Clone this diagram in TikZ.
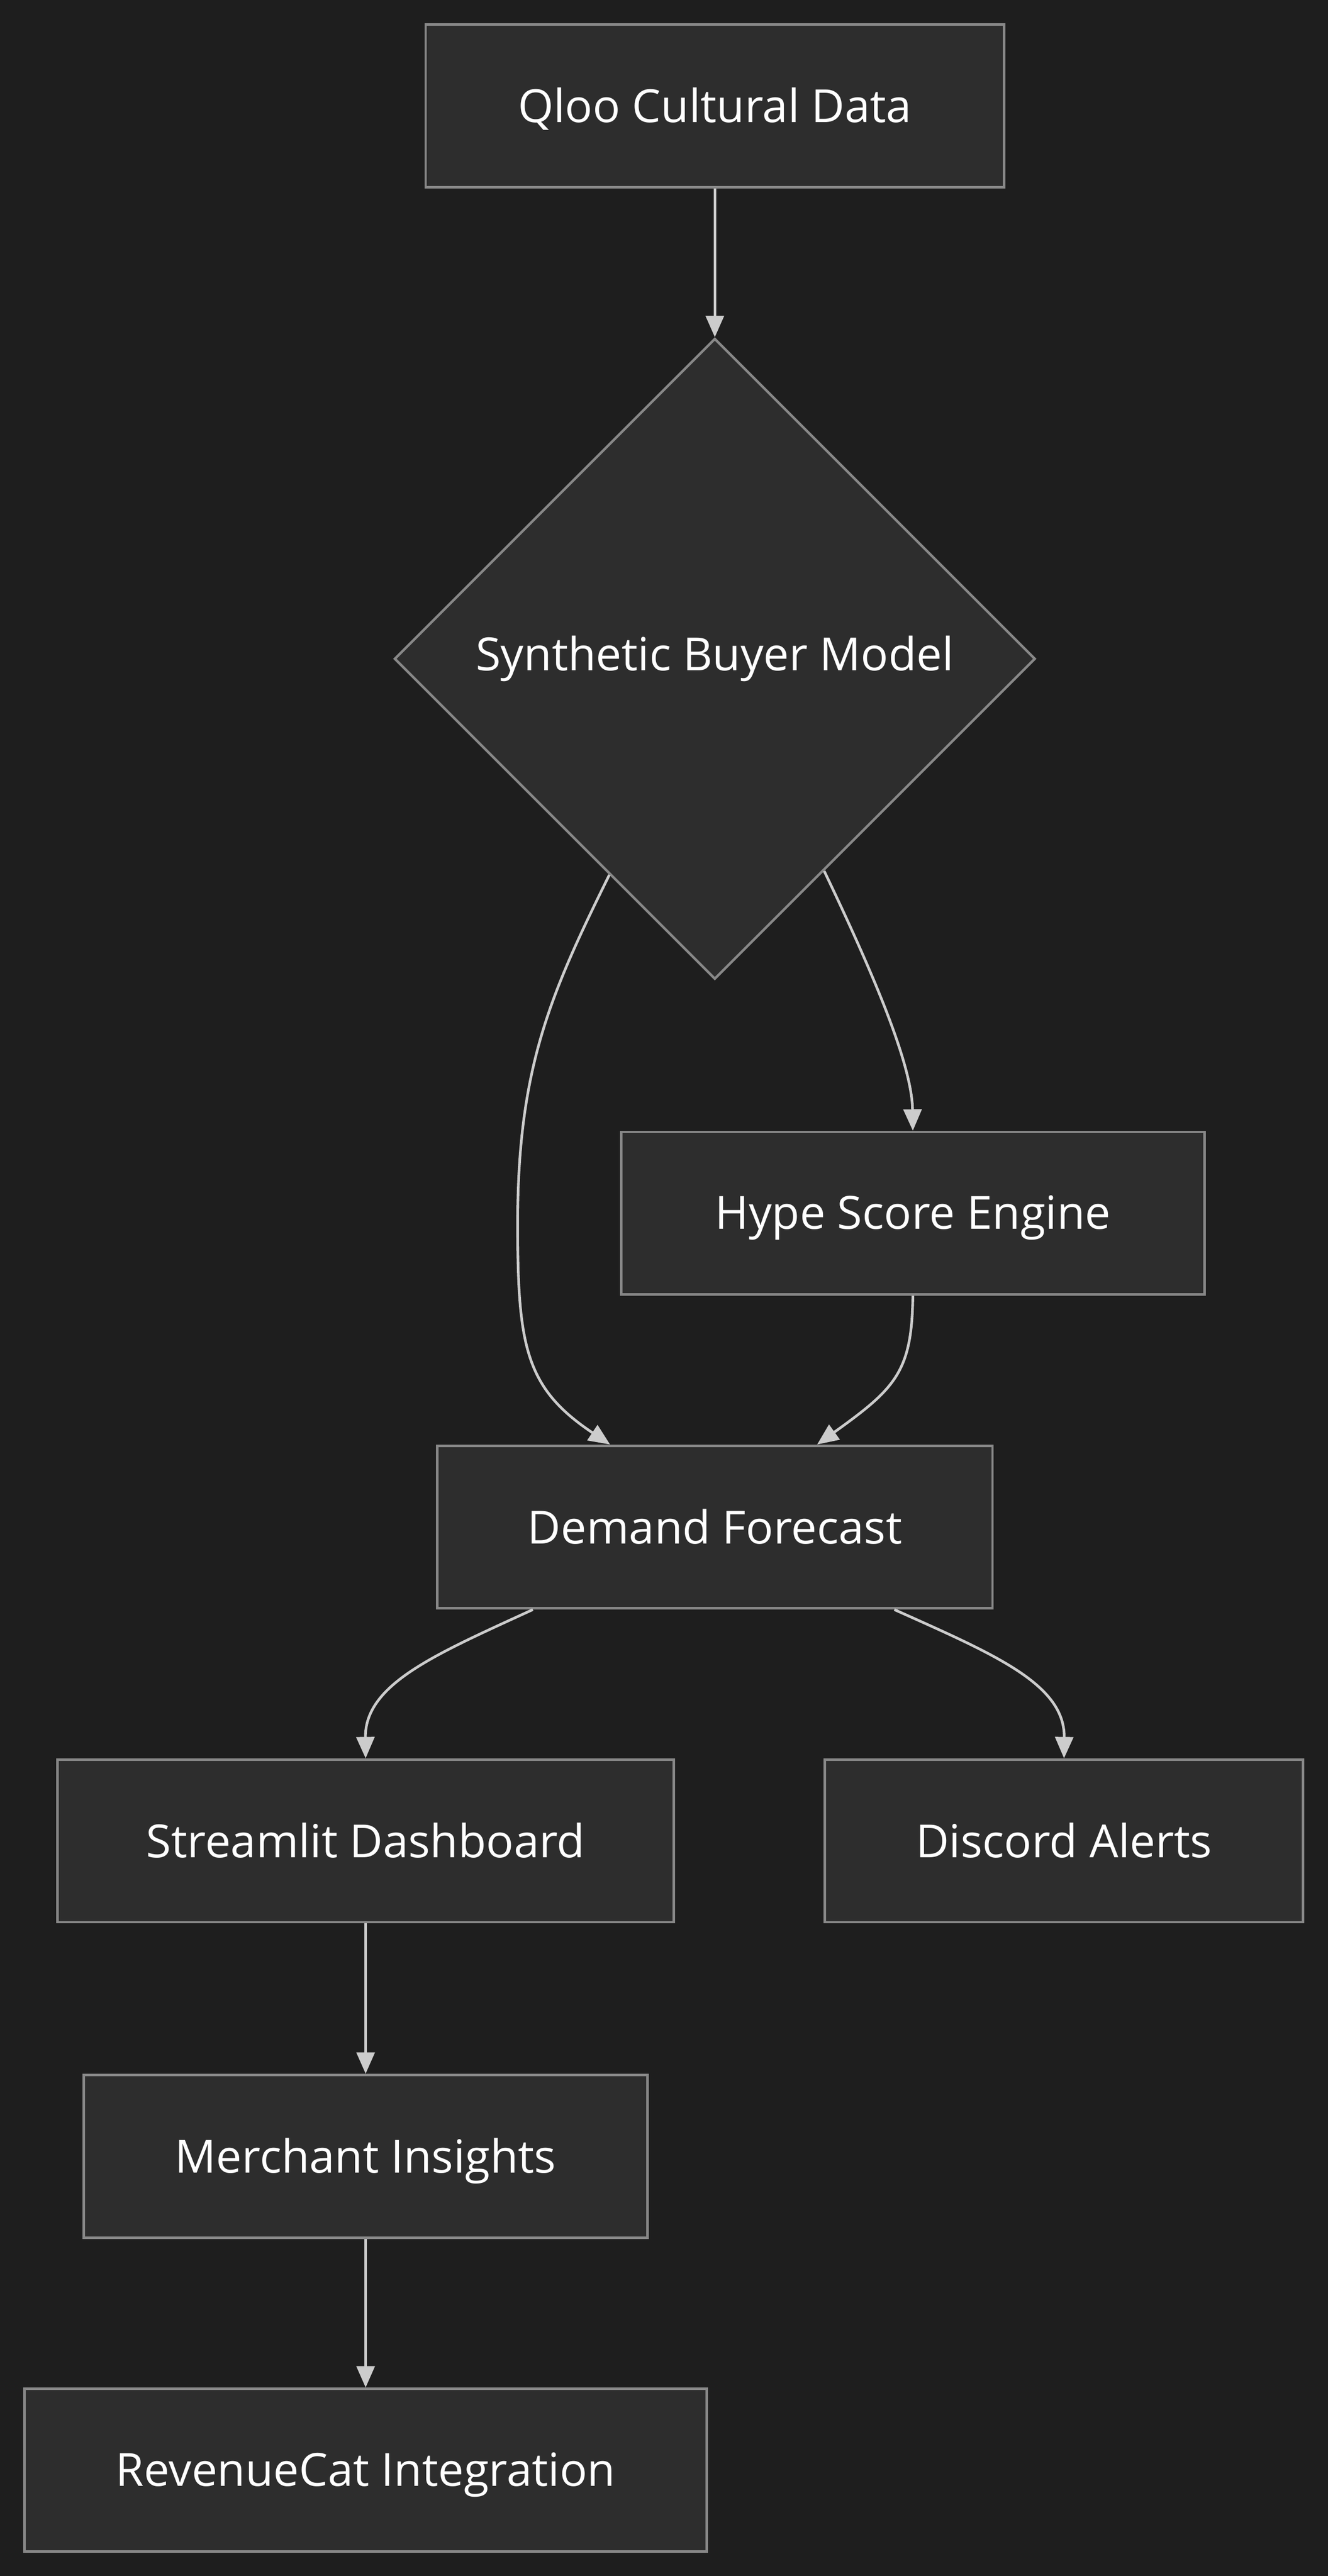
\documentclass[tikz,border=0pt]{standalone}
\usepackage{fontspec}
\setmainfont{Open Sans}
\usetikzlibrary{shapes.geometric,arrows.meta,calc}
\definecolor{bgc}{HTML}{1E1E1E}
\definecolor{fillc}{HTML}{2D2D2D}
\definecolor{borderc}{HTML}{888888}
\definecolor{edgec}{HTML}{CCCCCC}
\tikzset{
  box/.style={draw=borderc, fill=fillc, line width=1.5pt, inner sep=0pt, minimum height=99pt, text=white, font=\fontsize{27.8}{32}\selectfont, text depth=1pt},
  decision/.style={diamond, draw=borderc, fill=fillc, line width=1.5pt, inner sep=0pt, minimum width=390pt, minimum height=390pt, text=white, font=\fontsize{27.8}{32}\selectfont},
  flow/.style={draw=edgec, line width=1.6pt, -{Triangle[length=13pt,width=11pt]}, fill=none}
}
\begin{document}
\begin{tikzpicture}[x=1pt,y=-1pt]
\fill[bgc] (0,0) rectangle (808,1568);
\useasboundingbox (0,0) rectangle (808,1568);
\node[box, minimum width=352pt] (qloo) at (435,64.5) {Qloo Cultural Data};
\node[decision] (sbm) at (435,401) {Synthetic Buyer Model};
\node[box, minimum width=355pt] (hype) at (555.5,738.5) {Hype Score Engine};
\node[box, minimum width=338pt] (dem) at (435,929.5) {Demand Forecast};
\node[box, minimum width=375pt] (stream) at (222.5,1120.5) {Streamlit Dashboard};
\node[box, minimum width=291pt] (disc) at (647.5,1120.5) {Discord Alerts};
\node[box, minimum width=343pt] (merch) at (222.5,1312.5) {Merchant Insights};
\node[box, minimum width=415pt] (rev) at (222.5,1503.5) {RevenueCat Integration};

\coordinate (s1) at ($(sbm.west)!0.672!(sbm.south)$);
\coordinate (s2) at ($(sbm.east)!0.66!(sbm.south)$);
\coordinate (m1) at (315,745);

\draw[flow] (qloo) -- (sbm);
\draw[flow] (s1) .. controls (335,605) and (315,650) .. (m1) .. controls (315,820) and (320,845) .. ([xshift=106pt]dem.north west);
\draw[flow] (s2) .. controls (535,600) and (555,650) .. (hype.north);
\draw[flow] (hype.south) .. controls (555,835) and (545,845) .. ([xshift=232pt]dem.north west);
\draw[flow] ([xshift=59pt]dem.south west) .. controls (265,1007) and (222,1025) .. (stream.north);
\draw[flow] ([xshift=279pt]dem.south west) .. controls (605,1007) and (648,1025) .. (disc.north);
\draw[flow] (stream) -- (merch);
\draw[flow] (merch) -- (rev);
\end{tikzpicture}
\end{document}
